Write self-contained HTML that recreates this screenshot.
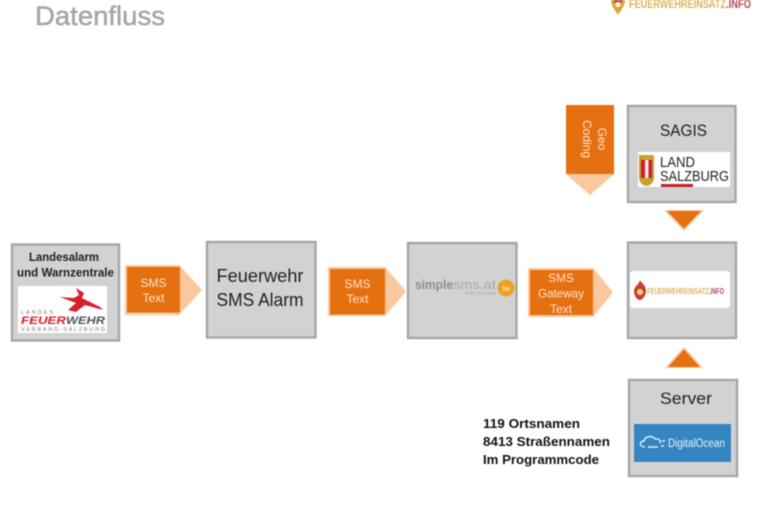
<!DOCTYPE html>
<html><head><meta charset="utf-8"><style>
html,body{margin:0;padding:0;background:#fff;width:768px;height:512px;overflow:hidden}
svg{display:block;filter:blur(.45px)}
text{font-family:"Liberation Sans",sans-serif}
.b{fill:#d2d2d2;stroke:#a6a6a6;stroke-width:2.400}
.l{fill:#fbc79c}
.o{fill:#e4700f}
.w{fill:#fde3cf;font-size:12px;text-anchor:middle}
.k{fill:#222;text-anchor:middle}
.n{fill:#111;font-size:13px;font-weight:bold}
</style></head><body>
<svg width="768" height="512" viewBox="0 0 768 512" xmlns="http://www.w3.org/2000/svg">
<text x="35" y="25" font-size="27" fill="#a6a6a6" stroke="#a6a6a6" stroke-width=".5" textLength="130" lengthAdjust="spacingAndGlyphs">Datenfluss</text>
<path d="M611 0H625C625 6 621 10 618 15 615 10 611 6 611 0Z" fill="#dca63c"/>
<path d="M613 0H623L621 3H615Z" fill="#c8402c"/>
<circle cx="618" cy="4.500" r="2.500" fill="#fff"/>
<text x="629" y="8" font-size="12" font-weight="bold" fill="#dcb45c" textLength="97" lengthAdjust="spacingAndGlyphs">FEUERWEHREINSATZ</text>
<text x="726" y="8" font-size="12" font-weight="bold" fill="#b4495a" textLength="25" lengthAdjust="spacingAndGlyphs">.INFO</text>

<!-- Box 1 -->
<rect class="b" x="12" y="244.500" width="107" height="96"/>
<text class="k" x="64" y="261" font-size="12" font-weight="bold" textLength="70" lengthAdjust="spacingAndGlyphs">Landesalarm</text>
<text class="k" x="65.500" y="276.500" font-size="12" font-weight="bold" textLength="97" lengthAdjust="spacingAndGlyphs">und Warnzentrale</text>
<rect x="18" y="286" width="89" height="47" fill="#fff"/>
<path d="M76 288L84 293 82 298 100 307 103 310 85 305 76 312 68 310 76 303 60 297 74 298 79 295Z" fill="#d4212c"/>
<text x="21" y="314" font-size="5.500" fill="#777" letter-spacing="2">LANDES</text>
<text x="21" y="324" font-size="11" font-weight="bold" font-style="italic" fill="#d4212c" textLength="45" lengthAdjust="spacingAndGlyphs">FEUER</text>
<text x="66" y="324" font-size="11" font-weight="bold" font-style="italic" fill="#555" textLength="39" lengthAdjust="spacingAndGlyphs">WEHR</text>
<text x="21" y="331" font-size="5.500" fill="#777" textLength="84">VERBAND-SALZBURG</text>

<!-- Arrow 1 -->
<path class="l" d="M125 265H179L202 290 179 315H125Z"/>
<rect class="o" x="127" y="267" width="53" height="45.500"/>
<text class="w" x="153.500" y="287">SMS</text>
<text class="w" x="153.500" y="302">Text</text>

<!-- Box 2 -->
<rect class="b" x="207" y="242" width="108.500" height="95.500"/>
<text class="k" x="260" y="282" font-size="18" textLength="87" lengthAdjust="spacingAndGlyphs">Feuerwehr</text>
<text class="k" x="260" y="306" font-size="18" textLength="87" lengthAdjust="spacingAndGlyphs">SMS Alarm</text>

<!-- Arrow 2 -->
<path class="l" d="M328 267H385L406 291.500 385 316H328Z"/>
<rect class="o" x="330" y="269" width="55" height="45.500"/>
<text class="w" x="357.500" y="288">SMS</text>
<text class="w" x="357.500" y="303">Text</text>

<!-- Box 3 -->
<rect class="b" x="408" y="243" width="108.500" height="95"/>
<text x="415" y="289" font-size="13" font-weight="bold" fill="#8f8f8f" textLength="38" lengthAdjust="spacingAndGlyphs">simple</text>
<text x="453" y="289" font-size="13" fill="#a8a8a8" textLength="43" lengthAdjust="spacingAndGlyphs">sms.at</text>
<text x="465" y="294" font-size="3.500" fill="#999" textLength="31">mobile technology</text>
<circle cx="506" cy="288" r="8.500" fill="#eea21f"/>
<text x="506" y="291" font-size="7" fill="#fff" text-anchor="middle">fw</text>

<!-- Arrow 3 -->
<path class="l" d="M528 268H593L613 292.500 593 317H528Z"/>
<rect class="o" x="530" y="270" width="63" height="45"/>
<text class="w" x="561" y="282">SMS</text>
<text class="w" x="561" y="297.500" textLength="46" lengthAdjust="spacingAndGlyphs">Gateway</text>
<text class="w" x="561" y="313">Text</text>

<!-- Box 4 -->
<rect class="b" x="628" y="242.500" width="108" height="95.500"/>
<rect x="630" y="271" width="100" height="37" rx="3" fill="#fff"/>
<path d="M640 280C642 284 646 285 646 291 646 296 642 300 640 300 637 300 634 296 634 291 634 286 639 285 640 280Z" fill="#c8402c"/>
<circle cx="640" cy="292" r="3" fill="#f4d58a"/>
<text x="647" y="294" font-size="8" font-weight="bold" fill="#d9b35a" textLength="62" lengthAdjust="spacingAndGlyphs">FEUERWEHREINSATZ</text>
<text x="709" y="294" font-size="8" font-weight="bold" fill="#b4495a" textLength="15" lengthAdjust="spacingAndGlyphs">.INFO</text>

<!-- Geo arrow -->
<path class="l" d="M566 174H614L590 195Z"/>
<rect class="o" x="566" y="105" width="48" height="69"/>
<g transform="translate(590 139) rotate(90)">
<text class="w" x="0" y="-8">Geo</text>
<text class="w" x="0" y="7">Coding</text>
</g>

<!-- SAGIS -->
<rect class="b" x="628" y="106" width="107.500" height="96"/>
<text class="k" x="683.500" y="136" font-size="17" textLength="47" lengthAdjust="spacingAndGlyphs">SAGIS</text>
<rect x="638" y="152" width="92" height="35" fill="#fff"/>
<path d="M639 155H654V178C654 183 649 186 646.500 186 644 186 639 183 639 178Z" fill="#c9a032"/>
<rect x="641" y="160" width="11" height="18" fill="#c8202c"/>
<rect x="645" y="160" width="3.500" height="18" fill="#f3e9e0"/>
<text x="660" y="167" font-size="15" fill="#222" textLength="35" lengthAdjust="spacingAndGlyphs">LAND</text>
<text x="660" y="181" font-size="15" fill="#222" textLength="69" lengthAdjust="spacingAndGlyphs">SALZBURG</text>
<rect x="661" y="184" width="32" height="3" fill="#c4202c"/>

<!-- Down triangle -->
<path d="M664 210H704L684 231Z" fill="#fbc79c"/>
<path d="M667 211H701L684 228.500Z" class="o"/>

<!-- Up triangle -->
<path d="M665 368H703L684 347Z" fill="#fbc79c"/>
<path d="M668 367H700L684 349.500Z" class="o"/>

<!-- Server -->
<rect class="b" x="629" y="380" width="108" height="96"/>
<text class="k" x="686" y="404" font-size="17" textLength="52" lengthAdjust="spacingAndGlyphs">Server</text>
<rect x="634" y="424" width="97" height="38" fill="#3585c1"/>
<path d="M645 447C639 447 639 441 644 441 645 436 652 435 655 439 659 438 661 441 660 443M648 447H658M662 441H665M661 446H664" fill="none" stroke="#dfeefa" stroke-width="1.400"/>
<text x="668" y="447" font-size="11.500" fill="#e6f2fb" textLength="57" lengthAdjust="spacingAndGlyphs">DigitalOcean</text>

<!-- Notes -->
<text class="n" x="483" y="428" textLength="97" lengthAdjust="spacingAndGlyphs">119 Ortsnamen</text>
<text class="n" x="483" y="446" textLength="127" lengthAdjust="spacingAndGlyphs">8413 Straßennamen</text>
<text class="n" x="483" y="464" textLength="116" lengthAdjust="spacingAndGlyphs">Im Programmcode</text>
</svg>
</body></html>
